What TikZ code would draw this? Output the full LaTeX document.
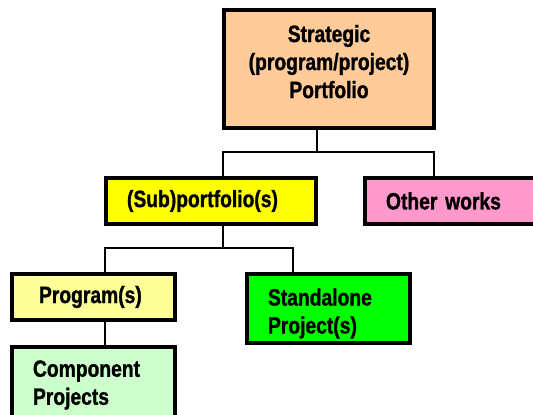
\documentclass[tikz,border=0pt]{standalone}
\usepackage{fontspec}
\setmainfont{Liberation Sans}[FakeStretch=0.82, BoldFeatures={FakeBold=1.2}]
\usetikzlibrary{positioning}
\definecolor{strategic}{HTML}{FFCC99}
\definecolor{subport}{HTML}{FFFF00}
\definecolor{otherwork}{HTML}{FF99CC}
\definecolor{program}{HTML}{FFFF99}
\definecolor{standalone}{HTML}{00FF00}
\definecolor{component}{HTML}{CCFFCC}
\tikzset{
  unit/.style = {draw, line width=4pt, inner xsep=21pt, inner ysep=0pt, align=left,
                 font=\bfseries\fontsize{23.5}{28}\selectfont},
  link/.style = {line width=2pt}
}

\begin{document}
\begin{tikzpicture}[x=1pt, y=-1pt]
		\useasboundingbox (0,0) rectangle (533,415);
		\clip (0,0) rectangle (533,415);
		% boxes
		\node (strat) [unit, fill=strategic, align=center, text width=168pt, text depth=71pt, minimum height=118pt] at (329,69) {Strategic\\(program/project)\\Portfolio};
		\node (sub) [unit, fill=subport, text width=168pt, minimum height=46pt] at (211,201) {(Sub)portfolio(s)};
		\node (other) [unit, fill=otherwork, text width=168pt, minimum height=46pt] at (470,201) {Other works};
		\node (prog) [unit, fill=program, inner xsep=27pt, text width=109pt, minimum height=46pt] at (93.5,297) {Program(s)};
		\node (stand) [unit, fill=standalone, text width=121pt, text depth=23pt, minimum height=69pt] at (328.5,308.5) {Standalone\\Project(s)};
		\node (comp) [unit, fill=component, text width=121pt, minimum height=76pt] at (93.5,385) {Component\\Projects};
		% connectors
		\coordinate (fork1) at (317,152);
		\coordinate (left1) at (223,152);
		\coordinate (right1) at (434,152);
		\coordinate (left2) at (105,248);
		\coordinate (right2) at (293,248);
		\draw[link] (strat.south -| fork1) -- (fork1);
		\draw[link] (sub.north -| left1) -- (left1) -- (right1) -- (right1 |- other.north);
		\draw[link] (sub.south -| left1) -- (left1 |- left2);
		\draw[link] (prog.north -| left2) -- (left2) -- (right2) -- (right2 |- stand.north);
		\draw[link] (prog.south -| left2) -- (comp.north -| left2);
\end{tikzpicture}
\end{document}
